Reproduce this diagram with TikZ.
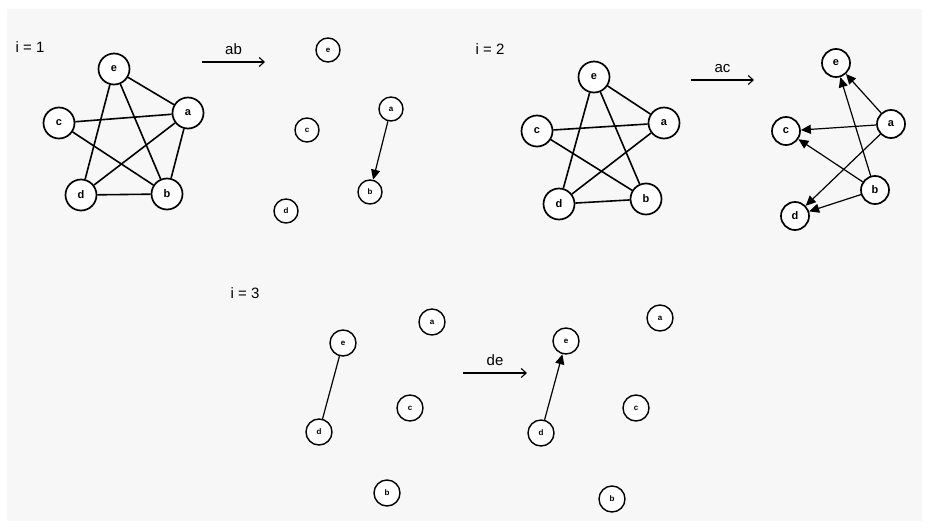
\documentclass[tikz,border=0pt]{standalone}
\usepackage{fontspec}
\setmainfont{Liberation Sans}
\usetikzlibrary{arrows.meta}

\tikzset{
  vtx/.style={circle, draw, line width=1.7pt, fill=white, minimum size=31pt, inner sep=0pt, font=\fontsize{11}{11}\selectfont\bfseries},
  vtxs/.style={circle, draw, line width=1.4pt, fill=white, minimum size=24pt, inner sep=0pt, font=\fontsize{8}{8}\selectfont\bfseries},
  edge/.style={draw, line width=1.6pt},
  dedge/.style={draw, line width=1.2pt, -{Triangle[length=10pt,width=9pt]}},
  step arrow/.style={draw, line width=1.1pt, -{Straight Barb[length=5pt,width=9pt]}},
  steplabel/.style={font=\fontsize{15}{15}\selectfont},
}

\begin{document}
\begin{tikzpicture}[x=1pt,y=-1pt]
	\useasboundingbox (0,0) rectangle (928,527);
	\fill[white] (0,0) rectangle (928,527);
	\fill[black!3] (7,9) rectangle (922,521);

	% i = 1
	\node[steplabel] (s1) at (30,47) {i = 1};
	\node[vtx] (e1) at (114,69) {e};
	\node[vtx] (a1) at (188,113) {a};
	\node[vtx] (c1) at (59,123) {c};
	\node[vtx] (d1) at (81,195) {d};
	\node[vtx] (b1) at (167,194) {b};
	\foreach \u/\v in {e1/a1, e1/d1, e1/b1, c1/a1, c1/b1, d1/a1, d1/b1, a1/b1}
		\draw[edge] (\u) -- (\v);

	\coordinate (p1) at (202,62);
	\coordinate (q1) at (265,62);
	\draw[step arrow] (p1) -- (q1) node[midway, above=3pt, steplabel] {ab};

	\node[vtxs] (e1r) at (328,50) {e};
	\node[vtxs] (a1r) at (391,109) {a};
	\node[vtxs] (c1r) at (307,130) {c};
	\node[vtxs] (b1r) at (370,192) {b};
	\node[vtxs] (d1r) at (286,211) {d};
	\draw[dedge] (a1r) -- (b1r);

	% i = 2
	\node[steplabel] (s2) at (490,49) {i = 2};
	\node[vtx] (e2) at (594,77) {e};
	\node[vtx] (a2) at (664,123) {a};
	\node[vtx] (c2) at (537,131) {c};
	\node[vtx] (d2) at (559,204) {d};
	\node[vtx] (b2) at (646,199) {b};
	\foreach \u/\v in {e2/a2, e2/d2, e2/b2, c2/a2, c2/b2, d2/a2, d2/b2}
		\draw[edge] (\u) -- (\v);

	\coordinate (p2) at (691,80);
	\coordinate (q2) at (754,80);
	\draw[step arrow] (p2) -- (q2) node[midway, above=3pt, steplabel] {ac};

	\node[vtx, minimum size=28pt] (e2r) at (836,63) {e};
	\node[vtx, minimum size=28pt] (c2r) at (786,131) {c};
	\node[vtx, minimum size=28pt] (a2r) at (891,124) {a};
	\node[vtx, minimum size=28pt] (b2r) at (875,190) {b};
	\node[vtx, minimum size=28pt] (d2r) at (795,216) {d};
	\foreach \u/\v in {a2r/e2r, b2r/e2r, a2r/c2r, b2r/c2r, a2r/d2r, b2r/d2r}
		\draw[dedge] (\u) -- (\v);

	% i = 3
	\node[steplabel] (s3) at (245,293) {i = 3};
	\node[vtxs, minimum size=26pt] (a3) at (432,322) {a};
	\node[vtxs, minimum size=26pt] (e3) at (343,343) {e};
	\node[vtxs, minimum size=26pt] (c3) at (410,408) {c};
	\node[vtxs, minimum size=26pt] (d3) at (319,432) {d};
	\node[vtxs, minimum size=26pt] (b3) at (387,493) {b};
	\draw[edge, line width=1.2pt] (d3) -- (e3);

	\coordinate (p3) at (463,373);
	\coordinate (q3) at (527,373);
	\draw[step arrow] (p3) -- (q3) node[midway, above=3pt, steplabel] {de};

	\node[vtxs, minimum size=26pt] (a3r) at (660,318) {a};
	\node[vtxs, minimum size=26pt] (e3r) at (566,341) {e};
	\node[vtxs, minimum size=26pt] (c3r) at (636,408) {c};
	\node[vtxs, minimum size=26pt] (d3r) at (541,433) {d};
	\node[vtxs, minimum size=26pt] (b3r) at (612,499) {b};
	\draw[dedge] (d3r) -- (e3r);
\end{tikzpicture}
\end{document}
